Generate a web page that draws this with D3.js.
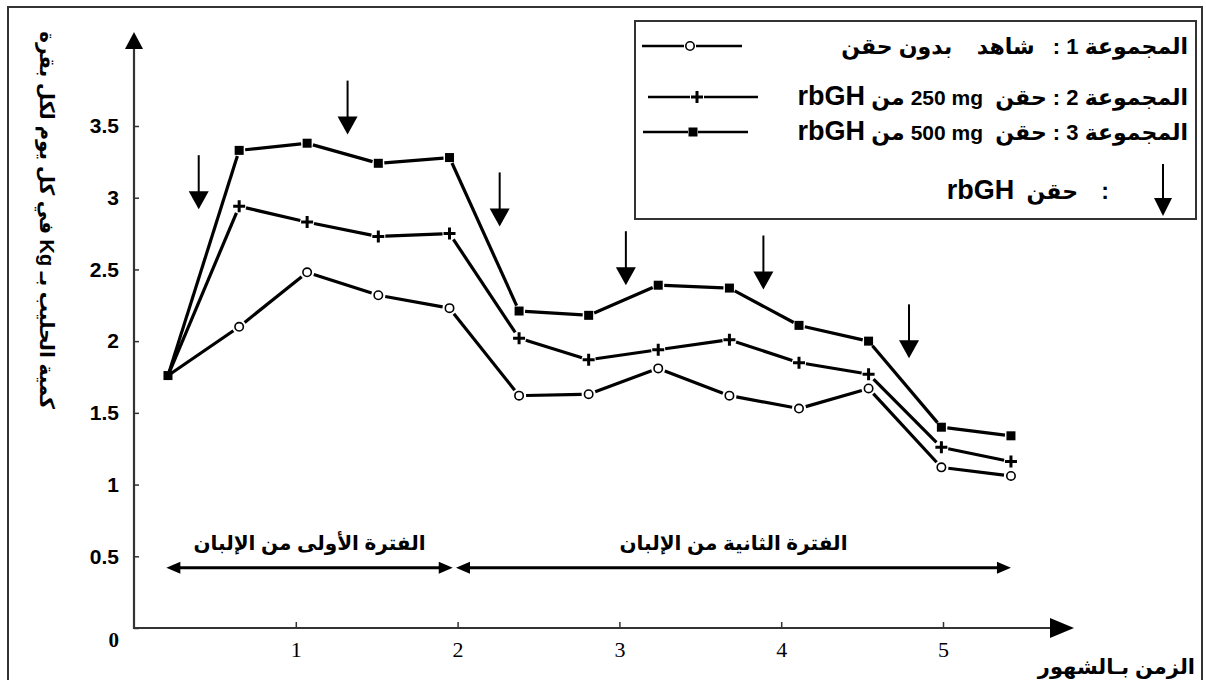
<!DOCTYPE html>
<html><head><meta charset="utf-8">
<script src="https://cdn.jsdelivr.net/npm/d3@7"></script>
<style>
body{margin:0;background:#fff}
svg{display:block}
text{font-family:Arial,"Liberation Sans","DejaVu Sans",sans-serif;font-weight:bold;fill:#000}
.pre{white-space:pre}
</style>
</head><body>
<svg id="c" width="1206" height="680"></svg>
<script>
// ---- data ----
const months = [0.21,0.65,1.07,1.51,1.95,2.38,2.81,3.24,3.68,4.11,4.54,4.99,5.42];
const group1 = [1.76,2.10,2.48,2.32,2.23,1.62,1.63,1.81,1.62,1.53,1.67,1.12,1.06];
const group2 = [1.76,2.94,2.83,2.73,2.75,2.02,1.87,1.94,2.01,1.85,1.77,1.26,1.16];
const group3 = [1.76,3.33,3.38,3.24,3.28,2.21,2.18,2.39,2.37,2.11,2.00,1.40,1.34];
const injectionMonths = [0.40,1.32,2.26,3.04,3.89,4.79];
const injectionTipValues = [2.92,3.44,2.80,2.39,2.36,1.88];
const yTicks = [0,0.5,1,1.5,2,2.5,3,3.5];
const xTicks = [1,2,3,4,5];
const periodLabels = ["الفترة الأولى من الإلبان","الفترة الثانية من الإلبان"];
const periodFrom = [0.20,1.99];
const periodTo = [1.97,5.42];
const periodLevel = 0.42;
const yTitle = "كمية الحليب بـ Kg في كل يوم لكل بقرة";
const xTitle = "الزمن بـالشهور";
const legendGroups = ["المجموعة 1 :","المجموعة 2 :","المجموعة 3 :"];
const legendDoses = ["250 mg","500 mg"];

const svg = d3.select("#c");
const x = d3.scaleLinear().domain([0,5]).range([134,943]);
const y = d3.scaleLinear().domain([0,3.5]).range([628,126]);

// outer frame
svg.append("rect").attr("x",8).attr("y",7).attr("width",1194).attr("height",690)
  .attr("fill","none").attr("stroke","#333").attr("stroke-width",2);

// y axis
const ya = svg.append("g").attr("transform",`translate(${x(0)},0)`)
  .call(d3.axisLeft(y).tickValues(yTicks).tickSizeInner(-5).tickSizeOuter(0).tickPadding(15)
    .tickFormat(d=>String(d)));
ya.select(".domain").remove();
ya.selectAll(".tick line").attr("stroke","#333").attr("stroke-width",1.5);
ya.selectAll(".tick text").style("font-size","21px").attr("fill","#000");
ya.selectAll(".tick").filter(d=>d===0).select("text")
  .style("font-family","'Liberation Serif','DejaVu Serif',serif").attr("dy","0.9em");
svg.append("line").attr("x1",x(0)).attr("x2",x(0)).attr("y1",y(0)+1).attr("y2",y(3.5)-80)
  .attr("stroke","#333").attr("stroke-width",2.2);
svg.append("path").attr("d",`M${x(0)},${y(3.5)-94}L${x(0)-9},${y(3.5)-77}L${x(0)+9},${y(3.5)-77}Z`).attr("fill","#000");

// x axis
const xa = svg.append("g").attr("transform",`translate(0,${y(0)})`)
  .call(d3.axisBottom(x).tickValues(xTicks).tickSizeInner(-6).tickSizeOuter(0).tickPadding(13)
    .tickFormat(d3.format("d")));
xa.select(".domain").remove();
xa.selectAll(".tick line").attr("stroke","#333").attr("stroke-width",1.5);
xa.selectAll(".tick text").style("font-size","22px")
  .style("font-family","'Liberation Serif','DejaVu Serif',serif").style("font-weight","normal");
svg.append("line").attr("x1",x(0)-1).attr("x2",1052).attr("y1",y(0)).attr("y2",y(0))
  .attr("stroke","#333").attr("stroke-width",2.2);
svg.append("path").attr("d",`M1074,${y(0)}L1050,${y(0)-10}L1050,${y(0)+10}Z`).attr("fill","#000");

// axis titles
svg.append("text").attr("transform","translate(40,220) rotate(90)")
  .attr("text-anchor","middle").attr("direction","rtl").style("font-size","20px").text(yTitle);
svg.append("text").attr("x",1195).attr("y",674).attr("direction","rtl").attr("text-anchor","start")
  .style("font-size","21px").text(xTitle);

// series
function segs(g, vals, gap){
  const pts = months.map((m,i)=>[x(m),y(vals[i])]);
  for(let i=0;i<pts.length-1;i++){
    const [x0,y0]=pts[i],[x1,y1]=pts[i+1];
    const L=Math.hypot(x1-x0,y1-y0), ux=(x1-x0)/L, uy=(y1-y0)/L;
    const g0 = i===0?1:gap;
    g.append("line").attr("x1",x0+ux*g0).attr("y1",y0+uy*g0)
      .attr("x2",x1-ux*gap).attr("y2",y1-uy*gap)
      .attr("stroke","#000").attr("stroke-width",3.2);
  }
  return pts;
}
function circleM(g,cx,cy){g.append("circle").attr("cx",cx).attr("cy",cy).attr("r",4.2).attr("fill","#fff").attr("stroke","#000").attr("stroke-width",1.6);}
function plusM(g,cx,cy){g.append("path").attr("d",`M${cx-6},${cy}H${cx+6}M${cx},${cy-6}V${cy+6}`).attr("stroke","#000").attr("stroke-width",3);}
function squareM(g,cx,cy){g.append("rect").attr("x",cx-4.5).attr("y",cy-4.5).attr("width",9).attr("height",9).attr("fill","#000");}

const gL = svg.append("g");
const p1 = segs(gL, group1, 7);
const p2 = segs(gL, group2, 7);
const p3 = segs(gL, group3, 6);
p1.forEach(([a,b],i)=>{ if(i>0) circleM(gL,a,b); });
p2.forEach(([a,b],i)=>{ if(i>0) plusM(gL,a,b); });
p3.forEach(([a,b])=>squareM(gL,a,b));

// injection arrows
injectionMonths.forEach((m,i)=>{
  const tx=x(m), ty=y(injectionTipValues[i]);
  svg.append("line").attr("x1",tx).attr("x2",tx).attr("y1",ty-54).attr("y2",ty-16)
    .attr("stroke","#000").attr("stroke-width",2);
  svg.append("path").attr("d",`M${tx},${ty}L${tx-10},${ty-18}L${tx+10},${ty-18}Z`).attr("fill","#000");
});

// lactation periods
periodLabels.forEach((lab,i)=>{
  const a=x(periodFrom[i]), b=x(periodTo[i]), py=y(periodLevel);
  svg.append("line").attr("x1",a+10).attr("x2",b-10).attr("y1",py).attr("y2",py)
    .attr("stroke","#000").attr("stroke-width",3);
  svg.append("path").attr("d",`M${a},${py}L${a+14},${py-6}L${a+14},${py+6}Z M${b},${py}L${b-14},${py-6}L${b-14},${py+6}Z`).attr("fill","#000");
  svg.append("text").attr("x",(a+b)/2).attr("y",py-18).attr("text-anchor","middle")
    .attr("direction","rtl").style("font-size","20px").text(lab);
});

// legend
const lg = svg.append("g");
lg.append("rect").attr("x",635).attr("y",21).attr("width",561).attr("height",198)
  .attr("fill","#fff").attr("stroke","#333").attr("stroke-width",2);
function legLine(x0,x1,cy,mx,gap,marker){
  lg.append("line").attr("x1",x0).attr("x2",mx-gap).attr("y1",cy).attr("y2",cy).attr("stroke","#000").attr("stroke-width",2.6);
  lg.append("line").attr("x1",mx+gap).attr("x2",x1).attr("y1",cy).attr("y2",cy).attr("stroke","#000").attr("stroke-width",2.6);
  marker(lg,mx,cy);
}
legLine(642,742,46,690,6,circleM);
legLine(648,758,97,697,7,plusM);
legLine(643,748,132,693,5,squareM);

function legText(xr, cy, parts){
  const t = lg.append("text").attr("x",xr).attr("y",cy+8).attr("direction","rtl")
    .attr("text-anchor","start").attr("class","pre").style("font-size","22px");
  parts.forEach(p=>t.append("tspan").style("font-size",p[1]+"px").text(p[0]));
}
legText(1188,46,[[legendGroups[0]+"   شاهد    بدون حقن",22]]);
legText(1188,97,[[legendGroups[1]+" حقن  ",22],["\u200E"+legendDoses[0],21],[" من ",22],["rbGH",27]]);
legText(1188,132,[[legendGroups[2]+" حقن  ",22],["\u200E"+legendDoses[1],21],[" من ",22],["rbGH",27]]);
lg.append("text").attr("x",1105).attr("y",199).attr("text-anchor","middle").style("font-size","23px").text(":");
legText(1078,191,[["حقن  ",22],["rbGH",27]]);
lg.append("line").attr("x1",1163).attr("x2",1163).attr("y1",164).attr("y2",200).attr("stroke","#000").attr("stroke-width",2);
lg.append("path").attr("d","M1163,216L1154,198L1172,198Z").attr("fill","#000");
</script>
</body></html>
